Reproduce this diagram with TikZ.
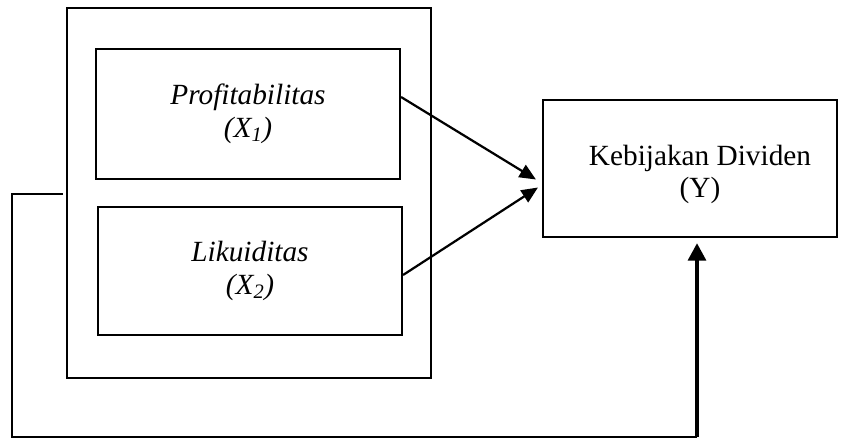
\documentclass[tikz,border=0pt]{standalone}
\usepackage{fontspec}
\setmainfont{Liberation Serif}
\usepackage{tikz}
\usetikzlibrary{arrows.meta, calc}

\begin{document}
\begin{tikzpicture}[
    x=0.03cm, y=-0.03cm,
    box/.style={draw, line width=1.8pt, align=center, inner sep=0pt, font=\fontsize{25}{28}\selectfont},
    label/.style={align=center, inner sep=0pt, font=\fontsize{25}{28}\selectfont},
    link/.style={line width=1.9pt, -{Triangle[length=14pt, width=12pt]}},
    feedback/.style={line width=1.8pt},
    bigarrow/.style={line width=3.6pt, -{Triangle[length=15pt, width=15pt]}}
]
    \useasboundingbox (0,0) rectangle (845,446);

    % Boxes
    \node[box, minimum width=364*0.03cm, minimum height=370*0.03cm] (outer) at (249,193) {};
    \node[box, minimum width=304*0.03cm, minimum height=130*0.03cm] (profit) at (248,114) {\textit{Profitabilitas}\\\textit{(X\textsubscript{1})}};
    \node[box, minimum width=304*0.03cm, minimum height=128*0.03cm] (likuid) at (250,271) {\textit{Likuiditas}\\\textit{(X\textsubscript{2})}};
    \node[box, minimum width=294*0.03cm, minimum height=137*0.03cm] (dividen) at (690,168.5) {};
    \node[label] (dividentext) at ($(dividen.center)+(10,6)$) {Kebijakan Dividen\\(Y)};

    % Arrow ends
    \coordinate (tipA) at ($(dividen.west)+(-6,11)$);
    \coordinate (tipB) at ($(dividen.west)+(-4,19)$);
    \coordinate (startA) at ($(profit.east)+(0,-17)$);
    \coordinate (startB) at ($(likuid.east)+(0,4)$);
    \coordinate (loopL) at ($(outer.west)+(-54,1)$);
    \coordinate (loopR) at (697,437);
    \coordinate (tipC) at ($(dividen.south)+(7,5)$);

    % Connectors
    \draw[link] (startA) -- (tipA);
    \draw[link] (startB) -- (tipB);
    \draw[feedback] ($(outer.west)+(-3,1)$) -- (loopL) |- (loopR);
    \draw[bigarrow] (loopR) -- (tipC);
\end{tikzpicture}
\end{document}
